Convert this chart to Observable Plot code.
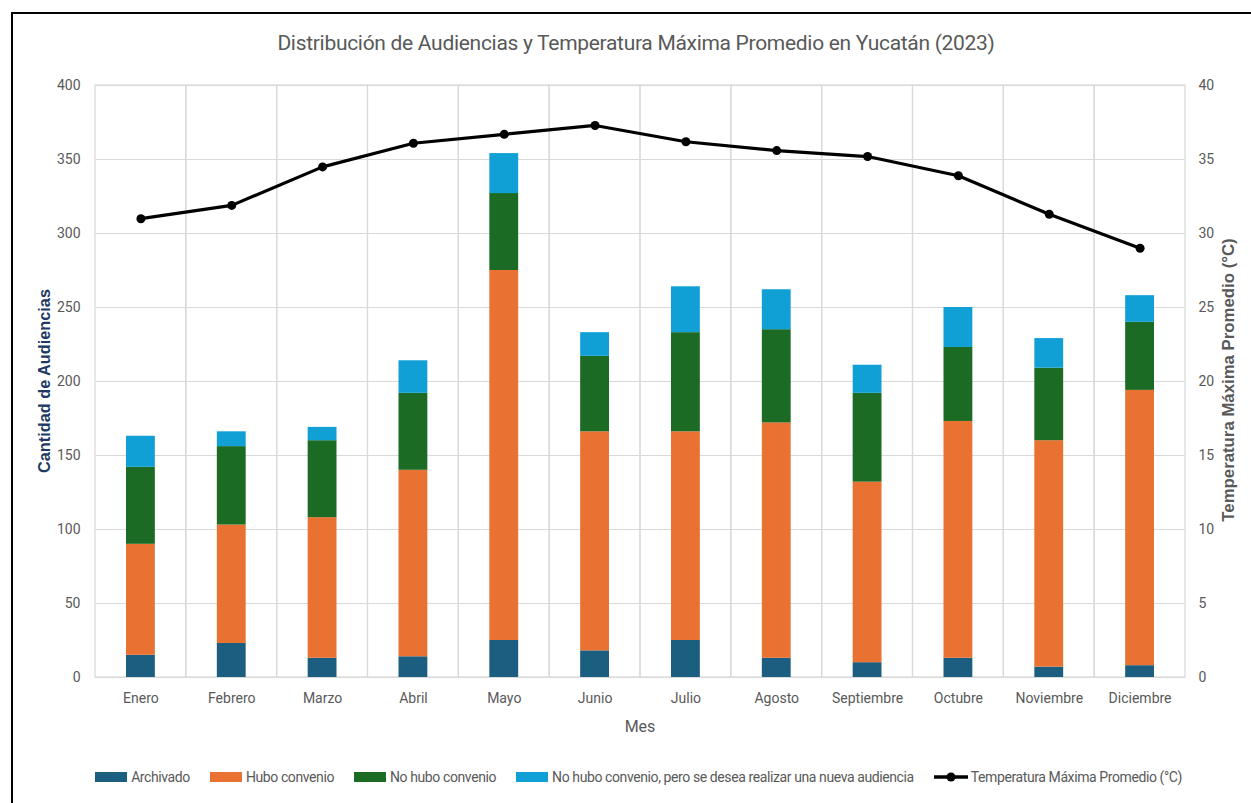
<!DOCTYPE html>
<html>
<head>
<meta charset="utf-8">
<script src="https://cdn.jsdelivr.net/npm/d3@7"></script>
<script src="https://cdn.jsdelivr.net/npm/@observablehq/plot@0.6"></script>
<style>
  html, body { margin: 0; padding: 0; background: #fff; }
  #wrap { position: relative; width: 1251px; height: 803px; overflow: hidden; font-family: Roboto, sans-serif; }
  #frame { position: absolute; left: 11px; top: 12px; width: 1300px; height: 900px; border-left: 2px solid #000; border-top: 2px solid #000; }
  #title { position: absolute; left: 0; width: 1272px; top: 31px; text-align: center; font-size: 21px; letter-spacing: -0.3px; color: #595959; font-family: Roboto, sans-serif; }
  #chart { position: absolute; left: 0; top: 0; }
  .ytitle { position: absolute; font-family: "Liberation Sans", Arial, sans-serif; font-weight: bold; white-space: nowrap; transform: translate(-50%, -50%) rotate(-90deg); }
  #ylab { left: 44px; top: 381px; font-size: 16.3px; color: #203864; }
  #y2lab { left: 1229px; top: 380px; font-size: 16.8px; color: #595959; }
  #xlab { position: absolute; left: 0; width: 1280px; top: 717px; text-align: center; font-size: 16px; color: #595959; }
  #legend { position: absolute; left: 0; width: 1277px; top: 769px; display: flex; justify-content: center; gap: 20px; font-size: 14px; letter-spacing: -0.4px; color: #595959; align-items: center; }
  .item { display: flex; align-items: center; gap: 4px; }
  .sw { width: 32px; height: 10px; display: inline-block; }
</style>
</head>
<body>
<div id="wrap">
  <div id="frame"></div>
  <div id="chart"></div>
  <div id="title">Distribución de Audiencias y Temperatura Máxima Promedio en Yucatán (2023)</div>
  <div class="ytitle" id="ylab">Cantidad de Audiencias</div>
  <div class="ytitle" id="y2lab">Temperatura Máxima Promedio (°C)</div>
  <div id="xlab">Mes</div>
  <div id="legend"></div>
</div>
<script>
const meses = ["Enero","Febrero","Marzo","Abril","Mayo","Junio","Julio","Agosto","Septiembre","Octubre","Noviembre","Diciembre"];
const series = ["Archivado","Hubo convenio","No hubo convenio","No hubo convenio, pero se desea realizar una nueva audiencia"];
const colores = ["#1B5E80","#E97132","#1B6B24","#10A0D6"];
const archivado      = [15, 23, 13, 14, 25, 18, 25, 13, 10, 13, 7, 8];
const huboConvenio   = [75, 80, 95, 126, 250, 148, 141, 159, 122, 160, 153, 186];
const noHuboConvenio = [52, 53, 52, 52, 52, 51, 67, 63, 60, 50, 49, 46];
const nuevaAudiencia = [21, 10, 9, 22, 27, 16, 31, 27, 19, 27, 20, 18];
const temperatura    = [31.0, 31.9, 34.5, 36.1, 36.7, 37.3, 36.2, 35.6, 35.2, 33.9, 31.3, 29.0];
const yTicks = [0, 50, 100, 150, 200, 250, 300, 350, 400];
const tempLabel = "Temperatura Máxima Promedio (°C)";

const valores = [archivado, huboConvenio, noHuboConvenio, nuevaAudiencia];
const rows = [];
series.forEach((s, i) => meses.forEach((m, j) => rows.push({mes: m, serie: s, valor: valores[i][j]})));
const temps = meses.map((m, j) => ({mes: m, t: temperatura[j]}));

const chart = Plot.plot({
  width: 1251,
  height: 740,
  marginLeft: 95,
  marginRight: 66,
  marginTop: 85,
  marginBottom: 63,
  style: {fontFamily: "Roboto, sans-serif", fontSize: "14px", color: "#595959", background: "transparent"},
  x: {type: "band", domain: meses, padding: 0, round: false, axis: null},
  y: {domain: [0, 400], axis: null},
  color: {domain: series, range: colores},
  marks: [
    Plot.cell(meses, {x: d => d, fill: "none", stroke: "#d9d9d9", strokeWidth: 1.2}),
    Plot.gridY(yTicks, {stroke: "#d9d9d9", strokeOpacity: 1, strokeWidth: 1.2}),
    Plot.barY(rows, {x: "mes", y: "valor", fill: "serie", order: series, insetLeft: 31, insetRight: 31}),
    Plot.line(temps, {x: "mes", y: d => d.t * 10, stroke: "#000", strokeWidth: 3.2}),
    Plot.dot(temps, {x: "mes", y: d => d.t * 10, r: 4.5, fill: "#000", stroke: "none"}),
    Plot.axisY(yTicks, {anchor: "left", tickSize: 0, tickPadding: 15, fill: "#595959", label: null}),
    Plot.axisY(yTicks, {anchor: "right", tickSize: 0, tickPadding: 13, fill: "#595959", tickFormat: d => d / 10, label: null}),
    Plot.axisX(meses, {anchor: "bottom", tickSize: 0, tickPadding: 16, fill: "#595959", label: null})
  ]
});
document.getElementById("chart").appendChild(chart);

const legend = document.getElementById("legend");
series.forEach((s, i) => {
  const it = document.createElement("div");
  it.className = "item";
  it.innerHTML = `<span class="sw" style="background:${colores[i]}"></span><span>${s}</span>`;
  legend.appendChild(it);
});
const li = document.createElement("div");
li.className = "item";
li.style.gap = "3px";
li.innerHTML = `<svg width="34" height="12"><line x1="0" y1="6" x2="34" y2="6" stroke="#000" stroke-width="3.5"/><circle cx="17" cy="6" r="4.5" fill="#000"/></svg><span>${tempLabel}</span>`;
legend.appendChild(li);
</script>
</body>
</html>
